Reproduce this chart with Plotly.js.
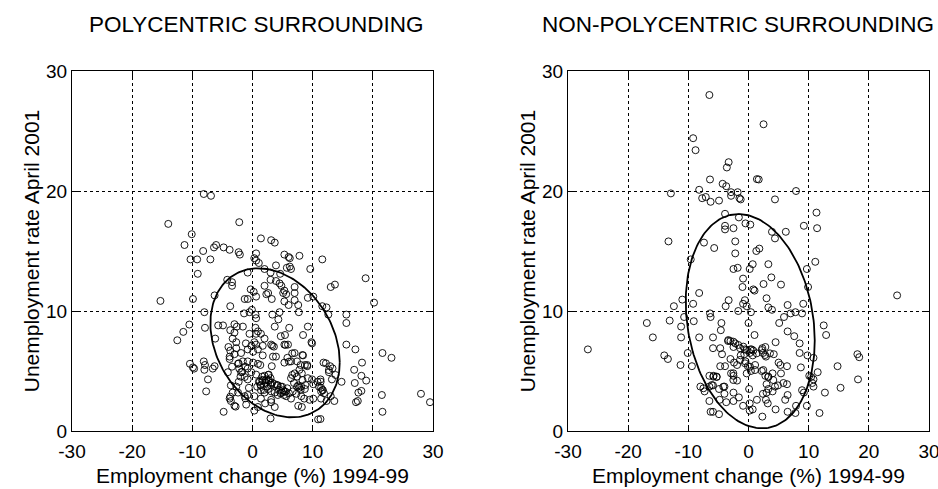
<!DOCTYPE html>
<html>
<head>
<meta charset="utf-8">
<script src="https://cdn.plot.ly/plotly-3.0.1.min.js"></script>
<style>html,body{margin:0;padding:0;background:#fff;}#chart{width:938px;height:489px;}</style>
</head>
<body>
<div id="chart"></div>
<script>
// ---------------- DATA ----------------
const panelTitles = ['POLYCENTRIC SURROUNDING', 'NON-POLYCENTRIC SURROUNDING'];
const xTitle = 'Employment change (%) 1994-99';
const yTitle = 'Unemployment rate April 2001';
const xTicks = [-30, -20, -10, 0, 10, 20, 30];
const yTicks = [0, 10, 20, 30];

// Polycentric surrounding: employment change (x) and unemployment rate (y)
const polyX = [
  -8.1,-6.9,-2.2,1.4,3.1,3.7,-6.05,-6.4,-4.8,-3.8,
  -8.2,-2.3,-2.1,0.6,0.3,5.3,6.0,6.2,7.8,-9.2,
  -7.0,0.6,1.05,3.9,5.7,6.4,6.2,11.6,9.6,2.0,
  -0.8,3.0,4.6,-9.1,-4.2,-3.4,-3.4,3.0,3.9,4.5,
  4.8,5.3,2.0,13.0,13.7,7.0,-0.3,0.2,5.1,5.6,
  2.3,2.6,-6.3,-1.3,-0.8,0.6,7.0,3.2,7.0,7.6,
  5.3,6.0,9.2,10.1,-3.7,11.6,12.3,-0.1,0.5,0.6,
  -1.4,-0.5,3.3,4.5,7.7,15.6,-8.0,15.6,12.6,-5.7,
  -4.9,-3.0,-2.6,-1.6,0.5,0.9,0.6,3.7,4.3,6.1,
  9.2,-7.9,-3.7,-3.0,-0.5,1.4,2.0,4.7,5.4,8.4,
  -6.2,-3.3,-2.7,0.3,0.6,9.8,9.9,-1.1,-0.2,1.7,
  3.1,5.3,5.9,-4.0,-3.7,-2.7,-0.8,0.1,0.9,3.3,
  15.6,7.0,8.4,-1.9,-3.8,-3.8,3.4,3.9,5.8,1.7,
  -3.0,-2.4,-1.6,-0.8,0.1,0.9,1.3,5.3,6.4,7.4,
  8.0,8.7,9.1,11.8,-8.1,-7.9,3.2,-2.2,-1.9,-0.8,
  12.9,-6.3,-6.6,-0.2,0.6,2.7,7.0,7.8,8.2,12.7,
  -4.1,-9.7,-8.0,-1.3,-0.8,2.0,2.3,2.6,3.0,6.4,
  6.9,9.2,9.9,11.3,10.8,13.2,-7.4,-2.3,1.2,1.4,
  1.7,3.0,3.7,4.2,4.7,5.1,5.3,4.9,7.6,8.1,
  10.1,11.4,11.7,11.4,14.8,-3.6,-2.7,-0.6,1.4,2.0,
  2.6,3.1,3.7,4.2,6.7,7.3,7.8,8.7,-7.7,-3.3,
  -2.4,-1.3,-0.8,0.3,5.6,6.4,13.0,13.6,1.4,3.1,
  -3.8,-3.6,8.1,8.6,9.5,10.1,11.4,2.1,3.1,0.9,
  0.3,3.7,-3.0,-1.05,7.6,8.2,12.3,3.0,-4.8,10.9,11.3,
  -14.0,-10.1,-11.3,-10.3,-15.3,-9.9,-10.5,-11.5,-12.5,-10.4,
  -9.9,18.8,20.2,21.6,23.1,17.1,18.2,16.9,18.1,18.9,
  18.1,17.6,17.2,17.5,17.0,21.5,21.6,28.0,29.5,
  1.06,1.61,2.17,2.72,1.33,2.44,3.0,1.89,3.28,1.61,2.61,0.78,
  4.39,4.94,5.5,4.67,5.22,5.78,4.11,6.06,
  11.06,11.61,11.89,11.33,
  6.6,7.4,8.3,8.8,7.4,8.0,-3.4,-2.3,-1.7,-1.2,-2.0,-3.7,-2.8,-1.2,3.56,5.5,6.6,8.3,9.1,6.06,12.2,12.7,13.3,13.8
];
const polyY = [
  19.75,19.6,17.4,16.05,15.9,15.7,15.5,15.3,15.3,15.1,
  15.0,14.9,14.7,14.8,14.4,14.7,14.5,14.4,14.6,14.3,
  14.3,14.2,14.0,13.8,13.6,13.5,13.7,14.3,13.5,13.5,
  13.2,13.2,13.1,13.1,12.6,12.4,12.1,12.6,12.5,12.3,
  12.1,11.7,12.1,12.0,12.2,12.0,11.8,11.6,11.5,11.4,
  11.4,11.5,11.3,11.0,11.0,11.2,11.5,11.0,10.9,10.5,
  10.8,10.5,11.1,11.2,10.4,10.4,10.3,10.1,9.7,9.4,
  9.8,9.9,9.7,9.9,9.9,9.7,9.9,9.0,9.7,8.8,
  8.8,8.9,8.7,8.7,8.6,8.3,8.1,8.7,9.3,8.6,
  8.7,8.6,8.4,8.2,8.1,8.1,7.7,7.9,8.0,8.0,
  7.7,7.7,7.4,7.4,7.2,7.4,7.3,7.3,7.1,7.1,
  7.2,7.2,7.2,7.0,6.7,6.9,6.8,6.6,6.8,7.1,
  7.2,6.5,6.3,6.5,6.2,6.0,6.2,6.2,6.1,6.3,
  6.4,5.6,5.8,5.8,5.7,5.6,5.5,5.7,5.8,5.8,
  5.5,5.5,5.4,5.7,5.8,5.5,5.4,5.2,4.9,5.2,
  5.4,5.4,5.2,4.9,4.7,4.7,4.8,5.1,4.8,4.9,
  4.9,5.2,5.1,4.5,4.3,4.6,4.3,4.2,4.4,4.4,
  4.0,4.4,4.3,4.3,4.1,4.3,4.3,4.1,4.1,3.8,
  4.2,4.0,3.9,3.8,3.7,3.4,3.3,3.2,3.8,3.7,
  3.9,3.6,3.4,3.3,4.1,3.8,3.7,3.6,3.4,3.2,
  3.5,3.3,3.2,3.0,3.3,3.1,3.6,3.5,3.3,3.2,
  3.2,2.9,3.0,2.9,2.9,2.7,2.9,2.5,2.7,2.6,
  2.7,2.5,2.9,2.7,2.6,2.7,2.7,2.3,2.4,2.0,
  1.7,2.0,2.1,2.2,2.1,2.0,2.5,1.05,1.6,0.97,1.0,
  17.26,16.4,15.5,14.3,10.84,11.0,8.87,8.26,7.56,5.6,
  5.3,12.73,10.7,6.5,6.1,6.8,5.7,5.1,4.6,4.2,
  3.34,3.2,2.4,2.5,4.0,3.0,1.6,3.1,2.4,
  4.11,4.25,4.03,4.25,3.83,3.69,3.83,3.42,4.03,4.53,4.67,3.69,
  3.42,3.69,3.28,3.14,3.0,3.56,3.83,3.14,
  3.69,3.42,3.14,4.11,
  4.67,4.53,4.25,3.83,3.69,3.42,5.36,5.64,4.94,5.36,4.53,2.86,2.03,2.72,7.03,7.17,6.47,6.33,5.5,5.78,5.64,5.08,5.22,4.67
];

// Non-polycentric surrounding
const nonX = [
  -6.5,2.5,-9.2,-8.8,-3.3,-3.6,-6.4,1.4,1.7,-4.3,
  -3.7,-12.9,-8.2,7.9,-7.7,-7.1,-6.3,-4.9,-2.9,-2.9,
  -1.8,-1.5,-1.3,4.4,-3.9,11.3,11.4,-1.6,-0.5,0.3,
  -3.9,-3.9,-2.5,9.2,3.9,4.4,6.2,-13.3,-7.4,-5.7,
  -2.2,1.3,1.8,-2.2,-9.6,11.1,0.7,0.2,3.3,-2.5,
  -1.8,9.7,3.8,-0.9,2.5,5.4,-1.0,0.8,1.0,9.9,
  24.7,-8.2,3.0,-3.3,-11.0,-9.2,-12.4,-0.6,-0.9,-0.3,
  0.4,-1.7,-3.8,3.3,3.9,6.5,9.1,8.9,7.0,7.8,
  -6.4,-6.3,-10.7,-16.9,-13.1,-11.2,-9.1,-4.5,0.0,5.9,
  5.1,12.5,12.9,-4.6,1.0,6.5,7.6,-15.9,-11.2,-8.2,
  -5.9,-3.4,-3.0,-2.5,-2.2,-1.4,-0.6,0.3,0.8,4.5,
  8.5,-26.7,-5.9,-4.7,2.3,2.8,-10.1,-4.4,-1.3,-0.7,
  0.2,0.7,2.4,2.9,4.2,8.5,9.8,10.8,-14.0,-13.4,
  18.1,18.4,-3.0,-2.4,-1.9,-0.5,-0.1,1.1,5.0,5.3,
  6.4,8.7,-11.3,-9.4,-4.7,-3.9,14.8,11.5,-2.9,-2.5,
  -1.9,-0.3,0.4,2.2,2.8,3.3,4.0,5.4,10.1,10.4,
  10.8,10.6,-6.5,-5.8,-5.3,18.2,-8.0,-6.5,-5.9,-4.9,
  -4.0,0.1,3.0,3.3,4.4,4.9,5.8,6.4,8.9,9.2,
  10.8,15.3,-7.3,-4.0,-2.5,2.4,3.0,4.0,12.7,-4.8,
  -3.7,-2.5,-1.6,1.4,2.9,3.2,6.5,6.1,-6.5,-0.9,
  0.2,0.7,0.2,4.5,7.9,9.7,11.8,-6.3,-5.9,-4.9,
  6.5,7.8,2.3,
  -3.35,-2.5,-1.7,-0.86,-0.3,0.53,1.36,2.2,2.74,3.57,
  -1.41,-0.58,0.25,1.08,2.46,3.29,4.12,
  -5.85,-5.28,-6.11,-7.5,-4.19,-2.52,-2.52
];
const nonY = [
  28.0,25.56,24.4,23.4,22.4,21.96,20.96,20.99,20.96,20.6,
  20.4,19.8,20.1,20.0,19.4,19.5,19.1,19.2,19.9,19.6,
  19.9,19.4,19.3,19.3,18.1,18.2,16.9,17.8,17.3,17.2,
  17.1,16.8,16.9,17.1,16.6,16.05,16.6,15.8,15.7,15.25,
  15.8,15.0,15.2,14.8,14.3,14.1,13.9,13.5,13.9,13.5,
  13.6,13.5,12.8,12.7,12.25,12.2,12.0,11.8,11.7,12.0,
  11.3,11.5,11.06,10.9,10.95,10.6,10.4,10.9,10.6,10.4,
  9.9,10.0,10.4,10.3,10.1,10.5,10.6,9.8,9.8,9.9,
  9.8,9.5,9.5,9.0,9.2,8.7,9.15,9.0,9.0,9.5,
  9.0,8.8,8.0,8.4,8.0,8.3,7.9,7.8,7.8,7.8,
  7.8,7.5,7.5,7.0,7.3,6.9,6.8,6.8,6.7,7.4,
  7.3,6.8,6.9,6.9,6.9,7.0,6.5,6.4,6.3,6.4,
  6.5,6.3,6.5,6.2,6.4,6.5,6.3,6.1,6.3,6.0,
  6.4,6.15,6.0,5.7,5.5,5.8,5.4,5.5,5.7,5.5,
  5.4,5.3,5.5,5.4,5.4,5.4,5.4,4.9,4.8,4.6,
  4.2,4.8,5.0,5.0,4.6,4.5,4.8,4.8,4.6,4.5,
  4.3,4.0,4.6,4.6,4.5,4.3,3.7,3.7,3.8,3.5,
  3.7,3.5,3.9,3.5,3.7,3.8,4.0,3.9,3.4,3.2,
  3.7,3.6,3.3,3.1,3.2,3.1,3.2,3.3,3.2,2.6,
  2.4,2.5,2.8,2.6,2.6,2.3,3.0,2.6,2.5,2.1,
  2.3,1.8,1.7,1.8,2.1,2.1,1.5,1.6,1.6,1.4,
  1.6,1.5,1.2,
  7.58,7.44,7.17,7.03,6.75,6.8,6.47,6.75,6.33,6.47,
  5.92,5.64,5.36,5.08,5.08,4.53,4.25,
  4.53,4.53,3.83,3.56,3.69,4.81,4.25
];

// Concentration ellipses: centre, half-widths along x and y, and phase cosine
const ellipseCentreX = [3.75, 0.29];
const ellipseCentreY = [7.35, 9.15];
const ellipseHalfX   = [10.75, 10.72];
const ellipseHalfY   = [6.21, 8.93];
const ellipsePhaseCos = [-0.26, -0.18];

// ---------------- BUILD ----------------
function ellipse(i) {
  const phi = Math.acos(ellipsePhaseCos[i]);
  const xs = [], ys = [];
  for (let k = 0; k <= 200; k++) {
    const t = 2 * Math.PI * k / 200;
    xs.push(ellipseCentreX[i] + ellipseHalfX[i] * Math.cos(t));
    ys.push(ellipseCentreY[i] + ellipseHalfY[i] * Math.cos(t - phi));
  }
  return {xs, ys};
}

const FONT = 'Liberation Sans, Arial, sans-serif';
const marker = {symbol: 'circle-open', size: 7, color: '#000', line: {width: 0.9, color: '#000'}};

const e0 = ellipse(0), e1 = ellipse(1);
const traces = [
  {type: 'scatter', mode: 'markers', x: polyX, y: polyY, xaxis: 'x', yaxis: 'y', marker, hoverinfo: 'skip', cliponaxis: false},
  {type: 'scatter', mode: 'lines', x: e0.xs, y: e0.ys, xaxis: 'x', yaxis: 'y', line: {color: '#000', width: 1.8}, hoverinfo: 'skip'},
  {type: 'scatter', mode: 'markers', x: nonX, y: nonY, xaxis: 'x2', yaxis: 'y2', marker, hoverinfo: 'skip'},
  {type: 'scatter', mode: 'lines', x: e1.xs, y: e1.ys, xaxis: 'x2', yaxis: 'y2', line: {color: '#000', width: 1.8}, hoverinfo: 'skip'}
];

const W = 938, H = 489;
const yDom = [1 - 431 / H, 1 - 71 / H];
function xAx(dom, anchor) {
  return {
    domain: dom, anchor, range: [-30, 30], tickvals: xTicks, ticktext: xTicks.map(String),
    showline: true, linecolor: '#000', linewidth: 1, mirror: 'allticks',
    ticks: 'inside', ticklen: 6, tickcolor: '#000', tickwidth: 1,
    showgrid: true, gridcolor: '#000', gridwidth: 1, griddash: '3px,3px', zeroline: false,
    tickfont: {family: FONT, size: 19, color: '#000'}, ticklabeloverflow: 'allow', ticklabelstandoff: 3,
    title: {text: xTitle, font: {family: FONT, size: 21, color: '#000'}, standoff: 7},
    automargin: false, fixedrange: true
  };
}
function yAx(anchor) {
  return {
    domain: yDom, anchor, range: [0, 30], tickvals: yTicks, ticktext: yTicks.map(String),
    showline: true, linecolor: '#000', linewidth: 1, mirror: 'allticks',
    ticks: 'inside', ticklen: 6, tickcolor: '#000', tickwidth: 1,
    showgrid: true, gridcolor: '#000', gridwidth: 1, griddash: '3px,3px', zeroline: false,
    tickfont: {family: FONT, size: 19, color: '#000'},
    title: {text: yTitle, font: {family: FONT, size: 21, color: '#000'}, standoff: 0},
    automargin: false, fixedrange: true
  };
}

const layout = {
  width: W, height: H, margin: {l: 0, r: 0, t: 0, b: 0},
  paper_bgcolor: '#fff', plot_bgcolor: '#fff', showlegend: false,
  font: {family: FONT, color: '#000'},
  xaxis: xAx([72 / W, 433 / W], 'y'),
  yaxis: yAx('x'),
  xaxis2: xAx([568 / W, 929 / W], 'y2'),
  yaxis2: yAx('x2'),
  annotations: [
    {text: panelTitles[0], xref: 'paper', yref: 'paper', x: 256 / W, y: 1 - 24 / H, xanchor: 'center', yanchor: 'middle', showarrow: false, font: {family: FONT, size: 22.5, color: '#000'}},
    {text: panelTitles[1], xref: 'paper', yref: 'paper', x: 738 / W, y: 1 - 24 / H, xanchor: 'center', yanchor: 'middle', showarrow: false, font: {family: FONT, size: 22.5, color: '#000'}}
  ]
};

Plotly.newPlot('chart', traces, layout, {staticPlot: true, displayModeBar: false});
</script>
</body>
</html>
